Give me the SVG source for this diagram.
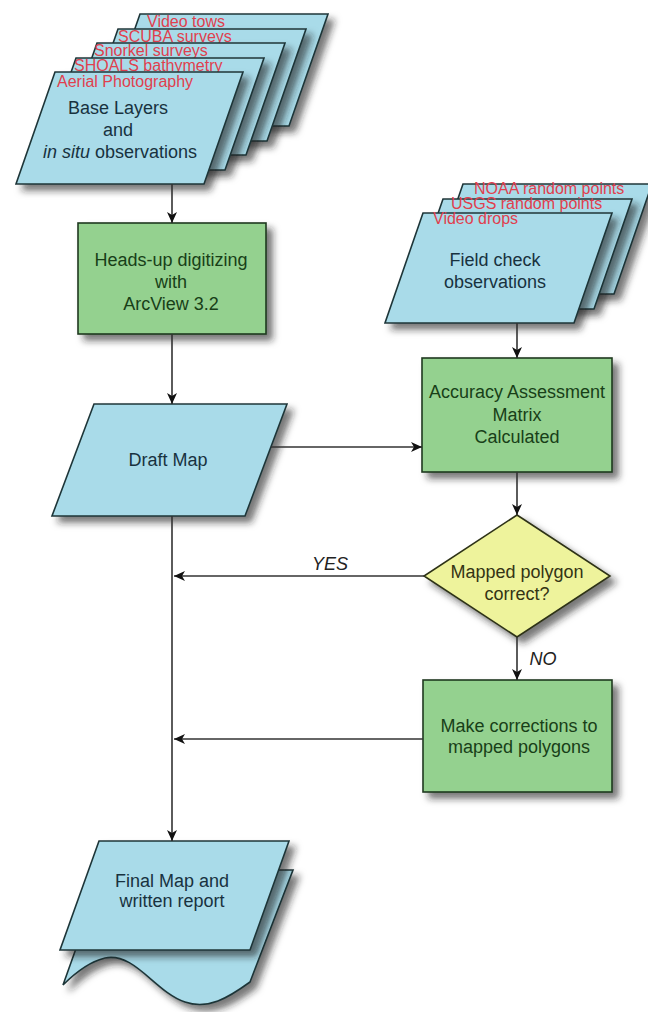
<svg xmlns="http://www.w3.org/2000/svg" width="648" height="1012" viewBox="0 0 648 1012">
<defs>
<filter id="sh" x="-20%" y="-20%" width="150%" height="150%">
<feDropShadow dx="6" dy="6" stdDeviation="3.5" flood-color="#222" flood-opacity="0.6"/>
</filter>
<marker id="arr" markerUnits="userSpaceOnUse" markerWidth="12" markerHeight="12" refX="11" refY="6" orient="auto">
<path d="M0,1 L11,6 L0,11 L3,6 Z" fill="#111"/>
</marker>
<style>
.blue{fill:#a9dbe9;stroke:#1f3639;stroke-width:1.6;filter:url(#sh)}
.green{fill:#94d18f;stroke:#1f3a1f;stroke-width:1.6;filter:url(#sh)}
.yellow{fill:#eef39c;stroke:#2e3318;stroke-width:1.6;filter:url(#sh)}
.red{font-family:"Liberation Sans",Arial,sans-serif;font-size:16px;fill:#e0404e}
.tb{font-family:"Liberation Sans",Arial,sans-serif;font-size:18px;fill:#18323f;text-anchor:middle}
.tg{font-family:"Liberation Sans",Arial,sans-serif;font-size:18px;fill:#183f18;text-anchor:middle}
.ty{font-family:"Liberation Sans",Arial,sans-serif;font-size:18px;fill:#343414;text-anchor:middle}
.lbl{font-family:"Liberation Sans",Arial,sans-serif;font-size:18px;font-style:italic;fill:#222;text-anchor:middle}
.con{stroke:#333;stroke-width:1.6;fill:none}
</style>
</defs>
<rect width="648" height="1012" fill="#fff"/>

<g id="base-layers">
<polygon class="blue" points="140,14 328,14 289,126 101,126"/>
<text class="red" x="147" y="27">Video tows</text>
<polygon class="blue" points="118,29 306,29 267,141 79,141"/>
<text class="red" x="118" y="42">SCUBA surveys</text>
<polygon class="blue" points="97,43 285,43 246,155 58,155"/>
<text class="red" x="94" y="56">Snorkel surveys</text>
<polygon class="blue" points="76,58 264,58 225,170 37,170"/>
<text class="red" x="74" y="71">SHOALS bathymetry</text>
<polygon class="blue" points="55,72 243,72 204,184 16,184"/>
<text class="red" x="57" y="87">Aerial Photography</text>
<text class="tb" x="118" y="114">Base Layers</text>
<text class="tb" x="118" y="136">and</text>
<text class="tb" x="120" y="158"><tspan font-style="italic">in situ</tspan> observations</text>
</g>

<g id="field-check">
<polygon class="blue" points="463,184 652,184 614,294 425,294"/>
<text class="red" x="474" y="194">NOAA random points</text>
<polygon class="blue" points="443,199 632,199 594,309 405,309"/>
<text class="red" x="451" y="209">USGS random points</text>
<polygon class="blue" points="423,213 612,213 574,323 385,323"/>
<text class="red" x="433" y="224">Video drops</text>
<text class="tb" x="495" y="266">Field check</text>
<text class="tb" x="495" y="288">observations</text>
</g>

<g id="heads-up">
<rect class="green" x="78" y="223" width="188" height="111"/>
<text class="tg" x="171" y="266">Heads-up digitizing</text>
<text class="tg" x="171" y="288">with</text>
<text class="tg" x="171" y="310">ArcView 3.2</text>
</g>

<g id="draft-map">
<polygon class="blue" points="94,404 287,404 245,516 52,516"/>
<text class="tb" x="168" y="466">Draft Map</text>
</g>

<g id="accuracy">
<rect class="green" x="422" y="358" width="190" height="114"/>
<text class="tg" x="517" y="398">Accuracy Assessment</text>
<text class="tg" x="517" y="421">Matrix</text>
<text class="tg" x="517" y="443">Calculated</text>
</g>

<g id="decision">
<polygon class="yellow" points="517,515 610,576 517,637 424,576"/>
<text class="ty" x="517" y="578">Mapped polygon</text>
<text class="ty" x="517" y="600">correct?</text>
</g>

<g id="corrections">
<rect class="green" x="423" y="680" width="189" height="112"/>
<text class="tg" x="519" y="732">Make corrections to</text>
<text class="tg" x="519" y="753">mapped polygons</text>
</g>

<g id="final-map">
<path class="blue" d="M104,870 L293,870 L250,982 C228,998 208,1010 185,1002 C155,992 135,952 105,958 C88,962 74,974 63,985 Z"/>
<polygon class="blue" points="99,841 289,841 250,950 60,950"/>
<text class="tb" x="172" y="887">Final Map and</text>
<text class="tb" x="172" y="907">written report</text>
</g>

<g id="connectors">
<line class="con" x1="172" y1="184" x2="172" y2="223" marker-end="url(#arr)"/>
<line class="con" x1="172" y1="334" x2="172" y2="404" marker-end="url(#arr)"/>
<line class="con" x1="271" y1="447" x2="422" y2="447" marker-end="url(#arr)"/>
<line class="con" x1="517" y1="323" x2="517" y2="358" marker-end="url(#arr)"/>
<line class="con" x1="517" y1="472" x2="517" y2="515" marker-end="url(#arr)"/>
<line class="con" x1="424" y1="576" x2="174" y2="576" marker-end="url(#arr)"/>
<line class="con" x1="517" y1="637" x2="517" y2="680" marker-end="url(#arr)"/>
<line class="con" x1="423" y1="739" x2="174" y2="739" marker-end="url(#arr)"/>
<line class="con" x1="172" y1="516" x2="172" y2="841" marker-end="url(#arr)"/>
<text class="lbl" x="330" y="570">YES</text>
<text class="lbl" x="543" y="665">NO</text>
</g>
</svg>
